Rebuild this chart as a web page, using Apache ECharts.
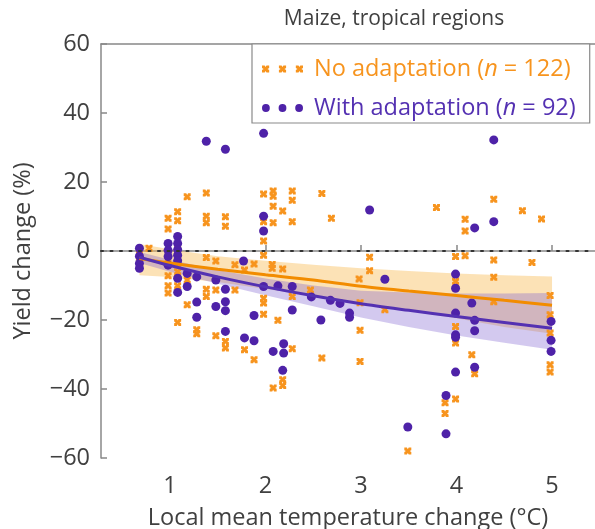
<!DOCTYPE html>
<html>
<head>
<meta charset="utf-8">
<script src="https://cdn.jsdelivr.net/npm/echarts@6/dist/echarts.min.js"></script>
<style>
  html, body { margin: 0; padding: 0; background: #fff; }
  #chart { width: 595px; height: 529px; }
</style>
</head>
<body>
<div id="chart"></div>
<script>
// Axis ticks
const xTicks = [1, 2, 3, 4, 5];
const yTicks = [-60, -40, -20, 0, 20, 40, 60];

// Study results: [local mean temperature change (°C), yield change (%)]
const noAdaptation = [
  [1.18, 15.7], [1.38, 16.8], [0.98, 9.5], [0.98, 6.4], [1.08, 11.4], [1.08, 8.8], [1.38, 10.1], [1.38, 8.2],
  [1.58, 9.9], [1.58, 7.2], [1.98, 16.5], [2.08, 17.4], [2.08, 15.9], [2.08, 13.0], [2.18, 11.6], [2.08, 8.2],
  [2.28, 17.4], [2.28, 14.7], [2.28, 8.5], [2.59, 16.7], [2.69, 9.5], [1.98, 8.5], [1.98, 2.9], [1.98, -1.2],
  [3.79, 12.6], [4.09, 9.2], [4.09, 5.8], [4.39, 15.0], [4.69, 11.7], [4.89, 9.3],
  [0.78, 0.8], [0.68, -1.0], [0.68, -3.0], [1.38, -1.9], [1.48, -2.9], [1.68, -4.0], [1.78, -5.5], [1.88, -3.8],
  [2.07, -3.9], [2.07, -5.0], [2.18, -5.2], [1.08, -4.0], [1.08, -6.0], [0.98, -2.5], [1.08, 0.5],
  [3.09, -1.8], [3.09, -5.7], [2.98, -8.1], [3.99, -1.6], [4.09, -1.4], [4.39, -2.6], [4.79, -3.3], [4.39, -7.6],
  [3.99, -8.8], [4.98, -12.9],
  [0.98, -7.2], [0.98, -10.1], [0.98, -12.2], [1.08, -10.1], [1.38, -11.1], [1.38, -13.2], [1.48, -11.3],
  [1.68, -11.3], [1.18, -15.6], [1.18, -8.4], [1.98, -13.7], [1.98, -15.1], [1.98, -18.3], [2.13, -20.1],
  [2.47, -11.3], [2.28, -13.2],
  [1.08, -20.7], [1.28, -22.8], [1.28, -24.0], [1.48, -24.6], [1.58, -26.2], [1.58, -28.1], [1.78, -28.6],
  [1.88, -31.5], [2.08, -39.7], [2.18, -37.3], [2.18, -39.0], [2.28, -28.3], [2.59, -31.0],
  [2.99, -15.0], [3.25, -17.0], [4.39, -14.7], [2.99, -23.0], [2.99, -32.0], [3.99, -21.9], [3.99, -26.7],
  [4.16, -30.1], [4.19, -35.6], [3.88, -44.0], [3.88, -47.1], [3.99, -42.9], [3.49, -58.0],
  [4.98, -18.5], [4.98, -23.8], [4.98, -33.0], [4.98, -35.1]
];

const withAdaptation = [
  [1.38, 31.8], [1.58, 29.5], [1.98, 34.1], [4.39, 32.2], [1.98, 10.1], [1.98, 5.8], [3.09, 11.9],
  [4.19, 6.7], [4.39, 8.5],
  [0.68, 0.8], [0.68, -1.5], [0.68, -3.6], [0.68, -5.0], [0.98, 2.2], [0.98, 0.2], [0.98, -1.6],
  [0.98, -4.1], [1.08, 4.2], [1.08, 2.2], [1.08, 0.4], [1.08, -1.2], [1.08, -2.8],
  [1.08, -7.9], [1.08, -12.0], [1.18, -10.3], [1.18, -6.5], [1.28, -7.5], [1.48, -8.4], [1.58, -11.1],
  [1.77, -2.9], [1.98, -10.3], [2.13, -10.1], [2.28, -10.3], [2.48, -13.3], [2.68, -14.3],
  [1.28, -14.8], [1.28, -19.2], [1.48, -16.1], [1.58, -14.7], [1.58, -17.3], [1.58, -23.3], [1.78, -25.2],
  [1.88, -18.7], [1.88, -26.0], [2.08, -29.1], [2.19, -26.9], [2.19, -29.6], [2.18, -34.6], [2.28, -17.1],
  [2.58, -20.0], [2.78, -15.2], [2.88, -18.0], [2.88, -19.2], [3.25, -8.2],
  [3.99, -6.7], [3.99, -10.8], [3.99, -18.0], [3.99, -24.3], [3.99, -25.0], [3.99, -35.1], [3.89, -41.9],
  [3.89, -53.0], [3.49, -51.0], [4.16, -15.1], [4.19, -20.1], [4.19, -23.1], [4.19, -33.7],
  [4.99, -20.4], [4.99, -25.9], [4.99, -29.1]
];

// Fitted responses and confidence bands
const fitX          = [0.68, 1.0, 1.5, 2.0, 2.5, 3.0, 3.5, 4.0, 4.5, 5.0];
const noAdaptFit    = [-2.2, -3.5, -5.3, -6.9, -8.4, -10.2, -11.6, -12.9, -14.3, -15.7];
const noAdaptLow    = [-7.0, -7.5, -9.0, -11.0, -12.8, -15.0, -17.3, -19.5, -22.0, -24.0];
const noAdaptHigh   = [2.0, 0.5, -1.5, -2.8, -4.0, -5.0, -5.8, -6.5, -7.0, -7.4];
const withAdaptFit  = [-1.8, -4.2, -7.5, -10.4, -13.0, -15.3, -17.2, -19.0, -20.7, -22.4];
const withAdaptLow  = [-3.5, -6.0, -9.5, -12.8, -16.0, -19.3, -22.0, -24.5, -26.6, -28.6];
const withAdaptHigh = [-0.3, -2.5, -5.5, -8.0, -10.0, -11.5, -12.0, -12.3, -12.3, -12.2];

const ORANGE = '#F7941E';
const ORANGE_LINE = '#F28C00';
const PURPLE = '#4E22A8';
const PURPLE_LINE = '#5431B2';
const TEXT = '#404040';
const AXIS = '#888888';
const FONT = '"Open Sans", "Noto Sans", sans-serif';
const FS = 23.5;

// Square-with-cross marker
const crossPath = (ox) =>
  `M${ox},0 L${ox + 2.6},0 L${ox + 3.5},1.6 L${ox + 4.4},0 L${ox + 7},0 L${ox + 7},2.6 L${ox + 5.4},3.5 ` +
  `L${ox + 7},4.4 L${ox + 7},7 L${ox + 4.4},7 L${ox + 3.5},5.4 L${ox + 2.6},7 L${ox},7 L${ox},4.4 ` +
  `L${ox + 1.6},3.5 L${ox},2.6 Z`;
const crossSymbol = 'path://' + crossPath(0);
const crossLegend = 'path://' + [0, 16.5, 33].map(crossPath).join(' ');
const dotLegend = 'path://' + [4, 21, 38].map(c =>
  `M${c - 4},4 A4,4 0 1,0 ${c + 4},4 A4,4 0 1,0 ${c - 4},4 Z`).join(' ');

function band(xs, lo, hi, color) {
  return {
    type: 'custom',
    silent: true,
    z: 1,
    clip: true,
    data: [[xs[0], lo[0]]],
    renderItem: (params, api) => {
      const pts = xs.map((x, i) => api.coord([x, hi[i]]));
      for (let i = xs.length - 1; i >= 0; i--) pts.push(api.coord([xs[i], lo[i]]));
      return { type: 'polygon', shape: { points: pts }, style: { fill: color } };
    }
  };
}

function fitLine(ys, color) {
  return {
    type: 'line',
    data: fitX.map((x, i) => [x, ys[i]]),
    showSymbol: false,
    smooth: 0.3,
    silent: true,
    z: 4,
    lineStyle: { color: color, width: 3 }
  };
}

const X_MIN = 0.2775, X_MAX = 5.45;

const chart = echarts.init(document.getElementById('chart'), null, { renderer: 'canvas' });
chart.setOption({
  animation: false,
  backgroundColor: '#fff',
  textStyle: { fontFamily: FONT },
  title: {
    text: 'Maize, tropical regions',
    left: 389,
    top: 4,
    textAlign: 'center',
    textStyle: { fontFamily: FONT, fontSize: 21, fontWeight: 'normal', color: TEXT }
  },
  grid: { left: 101, right: 0, top: 44, bottom: 71, containLabel: false, outerBoundsMode: 'none' },
  legend: {
    orient: 'vertical',
    left: 252,
    top: 44,
    padding: [12, 14, 2, 10],
    itemGap: 13,
    itemWidth: 41,
    itemHeight: 8,
    selectedMode: false,
    backgroundColor: '#fff',
    borderColor: '#8a8a8a',
    borderWidth: 1.2,
    borderRadius: 0,
    data: [
      { name: 'No adaptation', icon: crossLegend, itemStyle: { color: ORANGE } },
      { name: 'With adaptation', icon: dotLegend, itemStyle: { color: PURPLE } }
    ],
    formatter: name => name === 'No adaptation'
      ? '{o|No adaptation (}{oi|n}{o| = 122)}'
      : '{p|With adaptation (}{pi|n}{p| = 92)}',
    textStyle: {
      fontFamily: FONT,
      fontSize: FS,
      lineHeight: 26,
      padding: [0, 0, 0, 6],
      rich: {
        o: { color: ORANGE, fontSize: FS, fontFamily: FONT, lineHeight: 26 },
        oi: { color: ORANGE, fontSize: FS, fontFamily: FONT, fontStyle: 'italic', lineHeight: 26 },
        p: { color: PURPLE_LINE, fontSize: FS, fontFamily: FONT, lineHeight: 26 },
        pi: { color: PURPLE_LINE, fontSize: FS, fontFamily: FONT, fontStyle: 'italic', lineHeight: 26 }
      }
    }
  },
  xAxis: [
    {
      type: 'value',
      min: X_MIN,
      max: X_MAX,
      position: 'bottom',
      name: 'Local mean temperature change (°C)',
      nameLocation: 'middle',
      nameGap: 48,
      nameTextStyle: { fontFamily: FONT, fontSize: FS, color: TEXT },
      axisLine: { show: true, lineStyle: { color: AXIS, width: 1.5 } },
      axisTick: { show: true, inside: true, length: 6, customValues: xTicks, lineStyle: { color: AXIS, width: 1.5 } },
      axisLabel: { show: true, customValues: xTicks, fontFamily: FONT, fontSize: FS, color: TEXT, margin: 16 },
      splitLine: { show: false }
    },
    {
      type: 'value',
      min: X_MIN,
      max: X_MAX,
      position: 'top',
      axisLine: { show: true, lineStyle: { color: AXIS, width: 1.5 } },
      axisTick: { show: false },
      axisLabel: { show: false },
      splitLine: { show: false }
    }
  ],
  yAxis: {
    type: 'value',
    min: yTicks[0],
    max: yTicks[yTicks.length - 1],
    interval: 20,
    name: 'Yield change (%)',
    nameLocation: 'middle',
    nameRotate: 90,
    nameGap: 66,
    nameTextStyle: { fontFamily: FONT, fontSize: FS, color: TEXT },
    axisLine: { show: true, lineStyle: { color: AXIS, width: 1.5 } },
    axisTick: { show: true, inside: true, length: 6, lineStyle: { color: AXIS, width: 1.5 } },
    axisLabel: {
      fontFamily: FONT, fontSize: FS, color: TEXT, margin: 11,
      formatter: v => (v < 0 ? '\u2212' + Math.abs(v) : String(v))
    },
    splitLine: { show: false }
  },
  series: [
    band(fitX, noAdaptLow, noAdaptHigh, 'rgba(248, 185, 80, 0.42)'),
    band(fitX, withAdaptLow, withAdaptHigh, 'rgba(120, 90, 205, 0.33)'),
    {
      name: 'No adaptation',
      type: 'scatter',
      data: noAdaptation,
      symbol: crossSymbol,
      symbolSize: 7,
      z: 2,
      itemStyle: { color: ORANGE, opacity: 1 },
      markLine: {
        silent: true,
        symbol: 'none',
        label: { show: false },
        lineStyle: { color: '#333', width: 2, type: [2, 7.5], cap: 'round' },
        data: [{ yAxis: 0 }]
      }
    },
    {
      name: 'With adaptation',
      type: 'scatter',
      data: withAdaptation,
      symbol: 'circle',
      symbolSize: 9,
      z: 3,
      itemStyle: { color: PURPLE, opacity: 1 }
    },
    fitLine(noAdaptFit, ORANGE_LINE),
    fitLine(withAdaptFit, PURPLE_LINE)
  ]
});
</script>
</body>
</html>
